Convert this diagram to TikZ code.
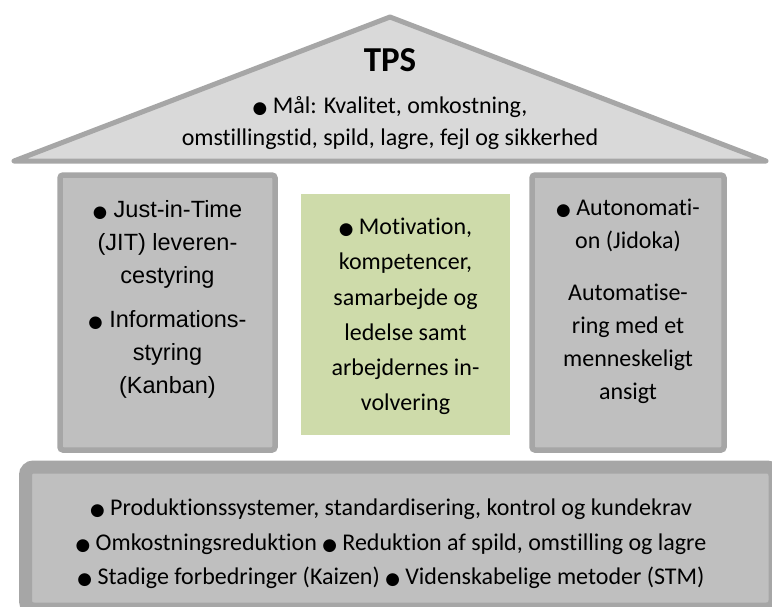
\documentclass[tikz,border=0pt]{standalone}
\usepackage{fontspec}
\setmainfont{Carlito}[Ligatures=NoCommon]
\newfontfamily\arialfont{Liberation Sans}
\newfontfamily\dejavu{DejaVu Sans}
\usepackage{tikz}

\definecolor{roofgray}{HTML}{D9D9D9}
\definecolor{pillargray}{HTML}{BFBFBF}
\definecolor{edgegray}{HTML}{A6A6A6}
\definecolor{softgreen}{RGB}{206,219,170}

% bullet sign used in front of each item
\newcommand{\blt}{{\dejavu\scalebox{0.7}{●}}}

\tikzset{
	roof/.style={draw=edgegray, fill=roofgray, line width=5pt, line join=round},
	pillar/.style={draw=edgegray, fill=pillargray, line width=5.5pt, rounded corners=3pt},
	base/.style={draw=edgegray, fill=pillargray, line width=13pt, rounded corners=8pt},
	label/.style={align=center, inner sep=0pt, font=\fontsize{24}{33}\selectfont},
}

\begin{document}
\begin{tikzpicture}[x=1pt, y=-1pt]
		\useasboundingbox[fill=white] (0,0) rectangle (772,606);
		
		% roof
		\coordinate (roofL) at (14,161);
		\coordinate (roofT) at (390,17);
		\coordinate (roofR) at (766,161);
		\draw [roof] (roofL) -- (roofT) -- (roofR) -- cycle;
		
		\node [font=\fontsize{35}{36}\bfseries] (tps) at (390,60) {TPS};
		\node [label, font=\fontsize{24}{32}\selectfont, anchor=north] (goal) at (390,96)
			{\blt{} Mål: Kvalitet, omkostning,\\ omstillingstid, spild, lagre, fejl og sikkerhed};
		
		% pillars
		\draw [pillar] (60,175) rectangle (275,450);
		\draw [pillar] (532,175) rectangle (724,450);
		\fill [softgreen] (301,194) rectangle (510,435);
		
		\node [label, anchor=north, font=\arialfont\fontsize{23.5}{33}\selectfont] (jit) at (167.5,200)
			{\blt{} Just-in-Time\\ (JIT) leveren-\\ cestyring};
		\node [label, anchor=north, font=\arialfont\fontsize{23.5}{33}\selectfont] (kanban) at (167.5,310)
			{\blt{} Informations-\\ styring\\ (Kanban)};
		
		\node [label, anchor=north, font=\fontsize{24}{35.2}\selectfont] (people) at (405.5,218)
			{\blt{} Motivation,\\ kompetencer,\\ samarbejde og\\ ledelse samt\\ arbejdernes in-\\ volvering};
		
		\node [label, anchor=north] (jidoka) at (628,199)
			{\blt{} Autonomati-\\ on (Jidoka)};
		\node [label, anchor=north] (auto) at (628,283.5)
			{Automatise-\\ ring med et\\ menneskeligt\\ ansigt};
		
		% foundation
		\draw [base] (25.5,467) rectangle (775,609);
		\node [label, font=\fontsize{24}{34.5}\selectfont] (found) at (391,544)
			{\blt{} Produktionssystemer, standardisering, kontrol og kundekrav\\
			 \blt{} Omkostningsreduktion \blt{} Reduktion af spild, omstilling og lagre\\
			 \blt{} Stadige forbedringer (Kaizen) \blt{} Videnskabelige metoder (STM)};
	\end{tikzpicture}
\end{document}
